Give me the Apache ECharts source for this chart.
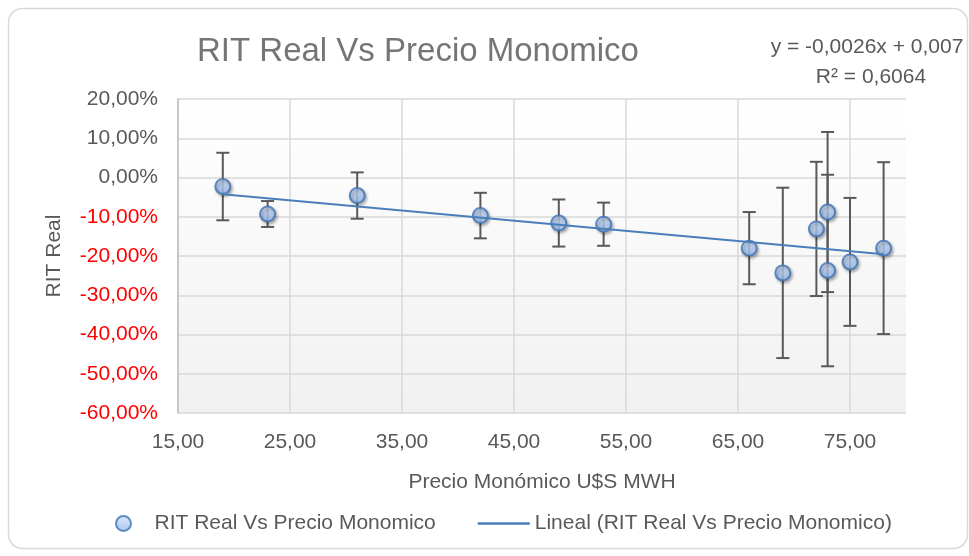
<!DOCTYPE html>
<html>
<head>
<meta charset="utf-8">
<script src="https://cdn.jsdelivr.net/npm/echarts@6/dist/echarts.min.js"></script>
<style>
html,body{margin:0;padding:0;background:#fff;}
#c{width:969px;height:556px;}
</style>
</head>
<body>
<div id="c"></div>
<script>
// Data
const precio = [19, 23, 31, 42, 49, 53, 66, 69, 72, 73, 73, 75, 78];
const ritReal = [-2.3, -9.3, -4.6, -9.7, -11.6, -11.9, -18.0, -24.3, -13.1, -8.8, -23.7, -21.5, -18.0];
const errorBar = [8.6, 3.3, 5.9, 5.8, 6.0, 5.5, 9.2, 21.7, 17.1, 20.4, 24.4, 16.3, 21.9];
const trendSlope = -0.0026;
const trendIntercept = 0.007;
const seriesName = 'RIT Real Vs Precio Monomico';
const trendName = 'Lineal (RIT Real Vs Precio Monomico)';
const titleText = 'RIT Real Vs Precio Monomico';
const eqLine1 = 'y = -0,0026x + 0,007';
const eqLine2 = 'R² = 0,6064';
const xName = 'Precio Monómico U$S MWH';
const yName = 'RIT Real';

const FONT = 'Liberation Sans';
const points = precio.map((x, i) => [x, ritReal[i], errorBar[i]]);
const xMinD = Math.min(...precio), xMaxD = Math.max(...precio);
const trend = [xMinD, xMaxD].map(x => [x, (trendSlope * x + trendIntercept) * 100]);
const fmt = v => v.toFixed(2).replace('.', ',');

const chart = echarts.init(document.getElementById('c'), null, {renderer: 'canvas'});
chart.setOption({
  backgroundColor: '#ffffff',
  animation: false,
  textStyle: {fontFamily: FONT},
  title: {
    text: titleText, left: 197, top: 35, padding: 0,
    textStyle: {fontFamily: FONT, fontSize: 33, fontWeight: 'normal', color: '#757575'}
  },
  graphic: [
    {type: 'rect', shape: {x: 8.5, y: 8.5, width: 959, height: 540, r: 14},
     style: {fill: 'none', stroke: '#d9d9d9', lineWidth: 1.5}, silent: true, z: -10},
    {type: 'text', x: 867, y: 47, style: {text: eqLine1, font: '21px "Liberation Sans"', fill: '#595959', align: 'center', verticalAlign: 'middle'}},
    {type: 'text', x: 871, y: 77, style: {text: eqLine2, font: '21px "Liberation Sans"', fill: '#595959', align: 'center', verticalAlign: 'middle'}}
  ],
  grid: {
    left: 178, right: 63, top: 99, bottom: 143, show: true, borderWidth: 0,
    backgroundColor: {type: 'linear', x: 0, y: 0, x2: 0, y2: 1,
      colorStops: [{offset: 0, color: '#ffffff'}, {offset: 1, color: '#f1f1f1'}]}
  },
  legend: {
    data: [
      {name: seriesName, icon: 'circle'},
      {name: trendName, icon: 'path://M0,0L52,0L52,2.5L0,2.5Z'}
    ],
    left: 110, top: 508, itemWidth: 52, itemHeight: 15, itemGap: 42,
    textStyle: {fontFamily: FONT, fontSize: 21, color: '#595959'}
  },
  xAxis: {
    type: 'value', min: 15, max: 80, interval: 10,
    name: xName, nameLocation: 'middle', nameGap: 59,
    nameTextStyle: {fontFamily: FONT, fontSize: 21, color: '#595959'},
    axisLine: {show: false}, axisTick: {show: false},
    axisLabel: {formatter: fmt, showMaxLabel: false, margin: 19, fontFamily: FONT, fontSize: 21, color: '#595959'},
    splitLine: {show: true, showMaxLine: false, lineStyle: {color: '#d9d9d9', width: 1.5}}
  },
  yAxis: {
    type: 'value', min: -60, max: 20, interval: 10,
    name: yName, nameLocation: 'middle', nameGap: 113,
    nameTextStyle: {fontFamily: FONT, fontSize: 21, color: '#595959'},
    axisLine: {show: true, onZero: false, lineStyle: {color: '#bfbfbf', width: 1.5}}, axisTick: {show: false},
    axisLabel: {formatter: v => fmt(v) + '%', margin: 20, fontFamily: FONT, fontSize: 21,
      color: v => (Number(v) < 0 ? '#ff0000' : '#595959')},
    splitLine: {show: true, lineStyle: {color: '#d9d9d9', width: 1.5}}
  },
  series: [
    {
      type: 'custom', name: 'err', z: 1, silent: true,
      data: points,
      encode: {x: 0, y: 1},
      renderItem: (params, api) => {
        const x = api.value(0), y = api.value(1), e = api.value(2);
        const top = api.coord([x, y + e]);
        const bot = api.coord([x, y - e]);
        const hw = 6.5;
        const st = {stroke: '#595959', lineWidth: 2};
        return {type: 'group', children: [
          {type: 'line', shape: {x1: top[0], y1: top[1], x2: bot[0], y2: bot[1]}, style: st},
          {type: 'line', shape: {x1: top[0] - hw, y1: top[1], x2: top[0] + hw, y2: top[1]}, style: st},
          {type: 'line', shape: {x1: bot[0] - hw, y1: bot[1], x2: bot[0] + hw, y2: bot[1]}, style: st}
        ]};
      }
    },
    {
      type: 'scatter', name: seriesName, z: 2,
      data: points.map(p => [p[0], p[1]]),
      symbol: 'circle', symbolSize: 15,
      itemStyle: {
        color: {type: 'linear', x: 0, y: 0, x2: 0, y2: 1,
          colorStops: [{offset: 0, color: '#d6e5fb'}, {offset: 1, color: '#92b7ee'}]},
        borderColor: '#3f72b5', borderWidth: 2,
        shadowColor: 'rgba(0,0,0,0.35)', shadowBlur: 3, shadowOffsetX: 1.5, shadowOffsetY: 2
      }
    },
    {
      type: 'line', name: trendName, z: 3,
      data: trend, symbol: 'none', silent: true,
      lineStyle: {color: '#4a7ebb', width: 2},
      itemStyle: {color: '#4a7ebb'}
    }
  ]
});
</script>
</body>
</html>
